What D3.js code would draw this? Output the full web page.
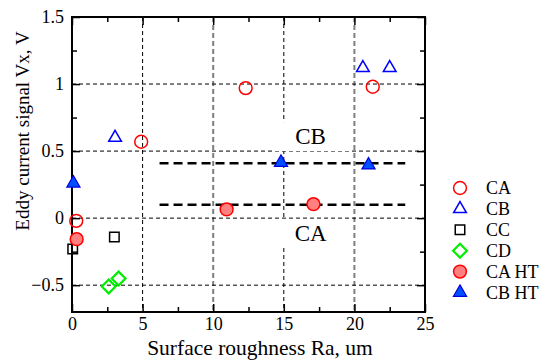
<!DOCTYPE html>
<html>
<head>
<meta charset="utf-8">
<script src="https://cdn.jsdelivr.net/npm/d3@7"></script>
<style>
  html, body { margin: 0; padding: 0; background: #fff; }
  svg { display: block; font-family: "Liberation Serif", "DejaVu Serif", serif; }
</style>
</head>
<body>
<svg id="chart" width="546" height="361"></svg>
<script>
// ─── Data ────────────────────────────────────────────────────────────────────
const caX   = [0.3, 4.9, 12.3, 21.3];
const caY   = [-0.02, 0.57, 0.97, 0.98];
const cbX   = [3.05, 20.6, 22.5];
const cbY   = [0.60, 1.12, 1.12];
const ccX   = [0.05, 3.0];
const ccY   = [-0.23, -0.14];
const cdX   = [2.6, 3.3];
const cdY   = [-0.51, -0.45];
const caHtX = [0.33, 10.95, 17.1];
const caHtY = [-0.157, 0.065, 0.104];
const cbHtX = [0.1, 14.8, 21.0];
const cbHtY = [0.26, 0.415, 0.395];

// threshold lines separating CA / CB
const thresholdX = [6.2, 23.6];
const thresholdY = [0.41, 0.10];

const xMajor = [0, 5, 10, 15, 20, 25];
const yMajor = [-0.5, 0, 0.5, 1, 1.5];

// ─── Layout ──────────────────────────────────────────────────────────────────
const M = { left: 72, top: 17, right: 121, bottom: 49 };
const W = 546, H = 361;

const x = d3.scaleLinear().domain([0, 25]).range([M.left, W - M.right]);
const y = d3.scaleLinear().domain([-0.7, 1.5]).range([H - M.bottom, M.top]);

const svg = d3.select('#chart');

// ── Grid ─────────────────────────────────────────────────────────────────────
const grid = svg.append('g');
[5, 15].forEach(v => grid.append('line')
  .attr('x1', x(v)).attr('x2', x(v)).attr('y1', y.range()[1]).attr('y2', y.range()[0])
  .attr('stroke', '#000').attr('stroke-width', 1).attr('stroke-dasharray', '4 3'));
[10, 20].forEach(v => grid.append('line')
  .attr('x1', x(v)).attr('x2', x(v)).attr('y1', y.range()[1]).attr('y2', y.range()[0])
  .attr('stroke', '#7f7f7f').attr('stroke-width', 2).attr('stroke-dasharray', '5 3'));
[-0.5, 0, 0.5, 1].forEach(v => grid.append('line')
  .attr('x1', x.range()[0]).attr('x2', x.range()[1]).attr('y1', y(v)).attr('y2', y(v))
  .attr('stroke', '#000').attr('stroke-width', 1).attr('stroke-dasharray', '4 3'));

// ── Region labels with white boxes ───────────────────────────────────────────
const regionLabels = [
  { text: 'CB', x: 16.9, y: 0.552 },
  { text: 'CA', x: 16.9, y: -0.17 },
];
regionLabels.forEach(d => {
  const g = svg.append('g');
  const t = g.append('text')
    .attr('x', x(d.x)).attr('y', y(d.y))
    .attr('text-anchor', 'middle')
    .style('font-size', '23px')
    .text(d.text);
  const b = t.node().getBBox();
  g.insert('rect', 'text')
    .attr('x', b.x - 23).attr('y', b.y - 2)
    .attr('width', b.width + 46).attr('height', b.height + 4)
    .attr('fill', '#fff');
});

// ── Threshold dashed lines ───────────────────────────────────────────────────
thresholdY.forEach(v => svg.append('line')
  .attr('x1', x(thresholdX[0])).attr('x2', x(thresholdX[1]))
  .attr('y1', y(v)).attr('y2', y(v))
  .attr('stroke', '#000').attr('stroke-width', 2.5).attr('stroke-dasharray', '9 5'));

// ── Axes ─────────────────────────────────────────────────────────────────────
const xMinor = d3.range(0, 25.01, 2.5).filter(v => !xMajor.includes(v));
const yMinor = d3.range(-0.5, 1.51, 0.25).filter(v => !yMajor.some(m => Math.abs(m - v) < 1e-9));

function styleAxis(g) {
  g.select('.domain').remove();
  g.selectAll('line').attr('stroke', '#000').attr('stroke-width', 1.5);
  g.selectAll('text').style('font-size', '18px').style('font-family', '"Liberation Serif", serif').attr('fill', '#000');
}

const pBottom = H - M.bottom, pTop = M.top, pLeft = M.left, pRight = W - M.right;

svg.append('g').attr('transform', `translate(0,${pBottom})`)
  .call(d3.axisBottom(x).tickValues(xMajor).tickSize(-8).tickPadding(5).tickFormat(d3.format('d')))
  .call(styleAxis);
svg.append('g').attr('transform', `translate(0,${pBottom})`)
  .call(d3.axisBottom(x).tickValues(xMinor).tickSize(-5).tickFormat(''))
  .call(styleAxis);
svg.append('g').attr('transform', `translate(0,${pTop})`)
  .call(d3.axisTop(x).tickValues(xMajor).tickSize(-8).tickFormat(''))
  .call(styleAxis);
svg.append('g').attr('transform', `translate(0,${pTop})`)
  .call(d3.axisTop(x).tickValues(xMinor).tickSize(-5).tickFormat(''))
  .call(styleAxis);

svg.append('g').attr('transform', `translate(${pLeft},0)`)
  .call(d3.axisLeft(y).tickValues(yMajor).tickSize(-8).tickPadding(8).tickFormat(d => d3.format('')(d)))
  .call(styleAxis);
svg.append('g').attr('transform', `translate(${pLeft},0)`)
  .call(d3.axisLeft(y).tickValues(yMinor).tickSize(-5).tickFormat(''))
  .call(styleAxis);
svg.append('g').attr('transform', `translate(${pRight},0)`)
  .call(d3.axisRight(y).tickValues(yMajor).tickSize(-8).tickFormat(''))
  .call(styleAxis);
svg.append('g').attr('transform', `translate(${pRight},0)`)
  .call(d3.axisRight(y).tickValues(yMinor).tickSize(-5).tickFormat(''))
  .call(styleAxis);

svg.append('rect')
  .attr('x', pLeft).attr('y', pTop).attr('width', pRight - pLeft).attr('height', pBottom - pTop)
  .attr('fill', 'none').attr('stroke', '#000').attr('stroke-width', 2);

// ── Axis titles ──────────────────────────────────────────────────────────────
svg.append('text')
  .attr('x', 260).attr('y', 355)
  .attr('text-anchor', 'middle')
  .style('font-size', '21.5px')
  .text('Surface roughness Ra, um');
svg.append('text')
  .attr('transform', 'translate(29,131) rotate(-90)')
  .attr('text-anchor', 'middle')
  .style('font-size', '19px')
  .text('Eddy current signal Vx, V');

// ── Series ───────────────────────────────────────────────────────────────────
const series = [
  { name: 'CA',    xs: caX,   ys: caY,   type: d3.symbolCircle,   size: 130, rot: 0,  fill: 'none',    stroke: '#ff0000', sw: 1.5 },
  { name: 'CB',    xs: cbX,   ys: cbY,   type: d3.symbolTriangle, size: 70,  rot: 0,  fill: 'none',    stroke: '#0000ff', sw: 1.5 },
  { name: 'CC',    xs: ccX,   ys: ccY,   type: d3.symbolSquare,   size: 90,  rot: 0,  fill: 'none',    stroke: '#000000', sw: 1.5 },
  { name: 'CD',    xs: cdX,   ys: cdY,   type: d3.symbolSquare,   size: 95,  rot: 45, fill: 'none',    stroke: '#00ee00', sw: 2.2 },
  { name: 'CA HT', xs: caHtX, ys: caHtY, type: d3.symbolCircle,   size: 130, rot: 0,  fill: '#ff8080', stroke: '#ff0000', sw: 1.5 },
  { name: 'CB HT', xs: cbHtX, ys: cbHtY, type: d3.symbolTriangle, size: 75,  rot: 0,  fill: '#0050ff', stroke: '#0000dd', sw: 1.2 },
];

series.forEach(s => {
  const path = d3.symbol().type(s.type).size(s.size)();
  svg.append('g')
    .selectAll('path')
    .data(s.xs.map((v, i) => [v, s.ys[i]]))
    .join('path')
    .attr('d', path)
    .attr('transform', d => `translate(${x(d[0])},${y(d[1])}) rotate(${s.rot})`)
    .attr('fill', s.fill)
    .attr('stroke', s.stroke)
    .attr('stroke-width', s.sw);
});

// ── Legend ───────────────────────────────────────────────────────────────────
const legend = svg.append('g').attr('transform', 'translate(460,188)');
series.forEach((s, i) => {
  const row = legend.append('g').attr('transform', `translate(0,${i * 20.9})`);
  row.append('path')
    .attr('d', d3.symbol().type(s.type).size(s.size)())
    .attr('transform', `rotate(${s.rot})`)
    .attr('fill', s.fill)
    .attr('stroke', s.stroke)
    .attr('stroke-width', s.sw);
  row.append('text')
    .attr('x', 26).attr('dy', '0.35em')
    .style('font-size', '18px')
    .text(s.name);
});
</script>
</body>
</html>
